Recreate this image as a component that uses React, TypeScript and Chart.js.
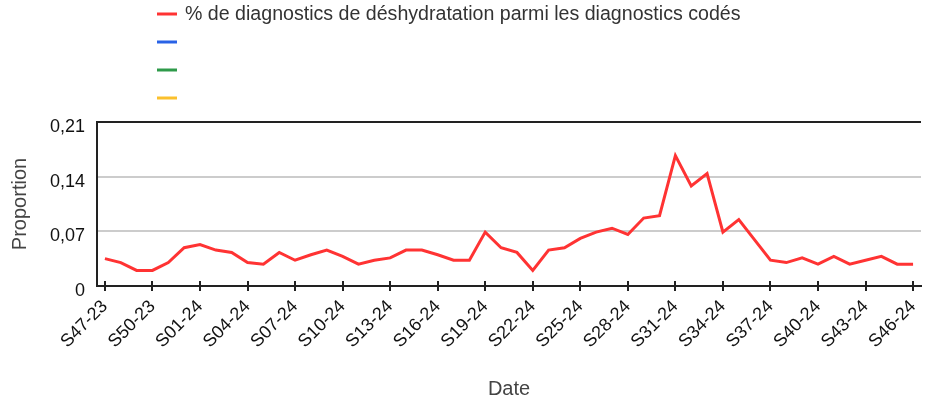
import React, { useEffect, useRef } from "react";
import { Chart, registerables } from "chart.js";

Chart.register(...registerables);

const categories: string[] = [
  "S47-23", "S48-23", "S49-23", "S50-23", "S51-23", "S52-23",
  "S01-24", "S02-24", "S03-24", "S04-24", "S05-24", "S06-24", "S07-24", "S08-24",
  "S09-24", "S10-24", "S11-24", "S12-24", "S13-24", "S14-24", "S15-24", "S16-24",
  "S17-24", "S18-24", "S19-24", "S20-24", "S21-24", "S22-24", "S23-24", "S24-24",
  "S25-24", "S26-24", "S27-24", "S28-24", "S29-24", "S30-24", "S31-24", "S32-24",
  "S33-24", "S34-24", "S35-24", "S36-24", "S37-24", "S38-24", "S39-24", "S40-24",
  "S41-24", "S42-24", "S43-24", "S44-24", "S45-24", "S46-24",
];

const dehydrationShare: number[] = [
  0.035, 0.030, 0.020, 0.020, 0.030, 0.049,
  0.053, 0.046, 0.043, 0.030, 0.028, 0.043, 0.033, 0.040,
  0.046, 0.038, 0.028, 0.033, 0.036, 0.046, 0.046, 0.040,
  0.033, 0.033, 0.069, 0.049, 0.043, 0.020, 0.046, 0.049,
  0.061, 0.069, 0.074, 0.066, 0.087, 0.090, 0.167, 0.128,
  0.144, 0.069, 0.085, 0.059, 0.033, 0.030, 0.036, 0.028,
  0.038, 0.028, 0.033, 0.038, 0.028, 0.028,
];

const seriesLabels: string[] = [
  "% de diagnostics de déshydratation parmi les diagnostics codés",
  "",
  "",
  "",
];
const seriesColors: string[] = ["#ff3333", "#2962e6", "#2e9a4a", "#fbc02d"];

const yTickValues: number[] = [0, 0.07, 0.14, 0.21];
const xLabelEvery = 3;

const FONT = "Arial, 'Liberation Sans', sans-serif";

const legendPlugin = {
  id: "stackedLegend",
  afterDraw(chart: any) {
    const ctx = chart.ctx;
    ctx.save();
    chart.data.datasets.forEach((ds: any, i: number) => {
      const y = 14 + i * 28;
      ctx.strokeStyle = ds.borderColor;
      ctx.lineWidth = 3;
      ctx.beginPath();
      ctx.moveTo(157, y);
      ctx.lineTo(177, y);
      ctx.stroke();
      if (ds.label) {
        ctx.fillStyle = "#333";
        ctx.font = `19.6px ${FONT}`;
        ctx.textBaseline = "middle";
        ctx.textAlign = "left";
        ctx.fillText(ds.label, 185, y + 1);
      }
    });
    ctx.restore();
  },
};

const tickMarksPlugin = {
  id: "crossTicks",
  afterDraw(chart: any) {
    const ctx = chart.ctx;
    const xs = chart.scales.x;
    const bottom = chart.chartArea.bottom;
    ctx.save();
    ctx.strokeStyle = "#222";
    ctx.lineWidth = 2;
    categories.forEach((_, i) => {
      if (i % xLabelEvery !== 0) return;
      const x = Math.round(xs.getPixelForValue(i));
      ctx.beginPath();
      ctx.moveTo(x, bottom - 5);
      ctx.lineTo(x, bottom + 5);
      ctx.stroke();
    });
    ctx.restore();
  },
};

export default function App() {
  const canvasRef = useRef<HTMLCanvasElement | null>(null);

  useEffect(() => {
    document.body.style.margin = "0";
    const canvas = canvasRef.current;
    if (!canvas) return;
    const chart = new Chart(canvas, {
      type: "line",
      data: {
        labels: categories,
        datasets: seriesLabels.map((label, i) => ({
          label,
          data: i === 0 ? dehydrationShare : [],
          borderColor: seriesColors[i],
          backgroundColor: seriesColors[i],
          borderWidth: 3,
          pointRadius: 0,
          tension: 0,
          fill: false,
        })),
      },
      options: {
        animation: false,
        responsive: false,
        devicePixelRatio: 1,
        layout: { padding: { top: 122, right: 4, left: 0, bottom: 0 } },
        plugins: {
          legend: { display: false },
          tooltip: { enabled: false },
        },
        scales: {
          x: {
            type: "category",
            offset: true,
            afterFit(scale: any) {
              scale.height = 115;
              scale.paddingLeft = 0;
              scale.paddingRight = 0;
            },
            grid: { display: false, drawOnChartArea: false },
            border: { display: true, color: "#222", width: 2 },
            ticks: {
              autoSkip: false,
              minRotation: 45,
              maxRotation: 45,
              padding: 2,
              color: "#111",
              font: { family: FONT, size: 18 },
              callback(_v: any, idx: number) {
                return idx % xLabelEvery === 0 ? categories[idx] : null;
              },
            },
            title: {
              display: true,
              text: "Date",
              color: "#444",
              font: { family: FONT, size: 20 },
              padding: { top: 0, bottom: 0 },
            },
          },
          y: {
            min: 0,
            max: 0.21,
            afterFit(scale: any) {
              scale.width = 97;
              scale.paddingTop = 0;
              scale.paddingBottom = 0;
            },
            afterBuildTicks(scale: any) {
              scale.ticks = yTickValues.map((v) => ({ value: v }));
            },
            grid: {
              drawTicks: false,
              lineWidth: 2,
              color: (c: any) =>
                c.tick && Math.abs(c.tick.value - 0.21) < 1e-9 ? "#222" : "#cccccc",
            },
            border: { display: true, color: "#222", width: 2 },
            ticks: {
              padding: 12,
              labelOffset: 5,
              color: "#111",
              font: { family: FONT, size: 18 },
              callback(v: any) {
                const n = Number(v);
                return n === 0 ? "0" : n.toFixed(2).replace(".", ",");
              },
            },
            title: {
              display: true,
              text: "Proportion",
              color: "#444",
              font: { family: FONT, size: 20 },
              padding: { top: 8, bottom: 0 },
            },
          },
        },
      },
      plugins: [legendPlugin, tickMarksPlugin],
    });
    return () => chart.destroy();
  }, []);

  return (
    <div style={{ width: 925, height: 401 }}>
      <canvas ref={canvasRef} width={925} height={401} style={{ display: "block" }} />
    </div>
  );
}
